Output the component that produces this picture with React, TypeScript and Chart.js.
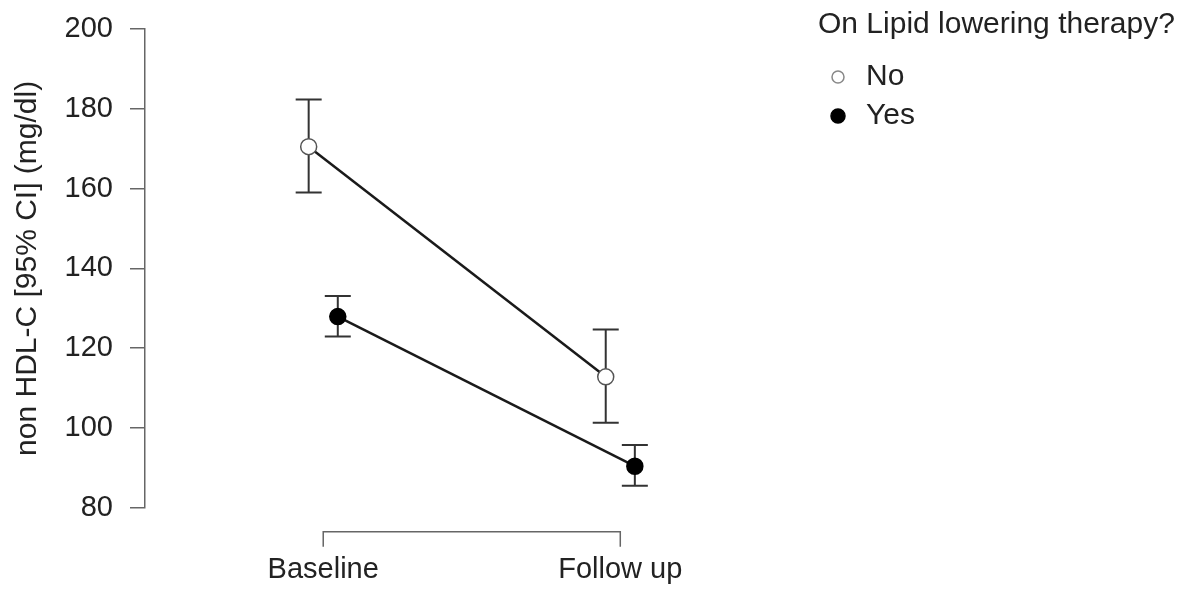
import { useEffect, useRef } from 'react';
import { Chart, registerables } from 'chart.js';

Chart.register(...registerables);

// ---- data ----
const categories = ['Baseline', 'Follow up'];
const seriesNames = ['No', 'Yes'];
const noMean = [170.5, 112.8];
const noLow = [159.0, 101.3];
const noHigh = [182.3, 124.7];
const yesMean = [127.9, 90.4];
const yesLow = [122.9, 85.5];
const yesHigh = [133.1, 95.7];
const yTicks = [80, 100, 120, 140, 160, 180, 200];
const legendTitle = 'On Lipid lowering therapy?';
const yTitle = 'non HDL-C [95% CI] (mg/dl)';

// ---- style ----
const FONT = "'Liberation Sans', Arial, Helvetica, sans-serif";
const TEXT = '#222';
const AXIS = '#666';
const DODGE = 0.049;
const CAP = 13;

const errorBars = {
  id: 'errorBars',
  beforeDatasetsDraw(chart: any) {
    const { ctx, scales } = chart;
    const y = scales.y;
    ctx.save();
    ctx.strokeStyle = '#333';
    ctx.lineWidth = 2;
    chart.data.datasets.forEach((ds: any, di: number) => {
      const meta = chart.getDatasetMeta(di);
      meta.data.forEach((pt: any, i: number) => {
        const px = pt.x;
        const yl = y.getPixelForValue(ds.errLow[i]);
        const yh = y.getPixelForValue(ds.errHigh[i]);
        ctx.beginPath();
        ctx.moveTo(px, yl);
        ctx.lineTo(px, yh);
        ctx.moveTo(px - CAP, yl);
        ctx.lineTo(px + CAP, yl);
        ctx.moveTo(px - CAP, yh);
        ctx.lineTo(px + CAP, yh);
        ctx.stroke();
      });
    });
    ctx.restore();
  },
};

const bracket = {
  id: 'bracket',
  afterDraw(chart: any) {
    const { ctx, scales, chartArea } = chart;
    const x = scales.x;
    const x0 = x.getPixelForValue(0);
    const x1 = x.getPixelForValue(categories.length - 1);
    const yb = chartArea.bottom + 24;
    ctx.save();
    ctx.strokeStyle = AXIS;
    ctx.lineWidth = 1.5;
    ctx.beginPath();
    ctx.moveTo(x0, yb + 15);
    ctx.lineTo(x0, yb);
    ctx.lineTo(x1, yb);
    ctx.lineTo(x1, yb + 15);
    ctx.stroke();
    ctx.restore();
  },
};

const customLegend = {
  id: 'customLegend',
  afterDraw(chart: any) {
    const { ctx } = chart;
    ctx.save();
    ctx.fillStyle = TEXT;
    ctx.font = `30px ${FONT}`;
    ctx.textBaseline = 'middle';
    ctx.textAlign = 'left';
    ctx.fillText(legendTitle, 818, 25);
    const rows = [
      { y: 77, fill: '#fff', stroke: '#888', r: 6 },
      { y: 116, fill: '#000', stroke: '#000', r: 7 },
    ];
    seriesNames.forEach((name, i) => {
      const row = rows[i];
      ctx.beginPath();
      ctx.arc(838, row.y, row.r, 0, Math.PI * 2);
      ctx.fillStyle = row.fill;
      ctx.fill();
      ctx.lineWidth = 1.5;
      ctx.strokeStyle = row.stroke;
      ctx.stroke();
      ctx.fillStyle = TEXT;
      ctx.fillText(name, 866, row.y);
    });
    ctx.restore();
  },
};

export default function App() {
  const ref = useRef<HTMLCanvasElement>(null);

  useEffect(() => {
    if (!ref.current) return;
    const chart = new Chart(ref.current, {
      type: 'line',
      data: {
        datasets: [
          {
            label: seriesNames[0],
            data: noMean.map((v, i) => ({ x: i - DODGE, y: v })),
            errLow: noLow,
            errHigh: noHigh,
            borderColor: '#1a1a1a',
            borderWidth: 2.5,
            pointRadius: 8,
            pointBackgroundColor: '#fff',
            pointBorderColor: '#555',
            pointBorderWidth: 1.5,
          } as any,
          {
            label: seriesNames[1],
            data: yesMean.map((v, i) => ({ x: i + DODGE, y: v })),
            errLow: yesLow,
            errHigh: yesHigh,
            borderColor: '#1a1a1a',
            borderWidth: 2.5,
            pointRadius: 8,
            pointBackgroundColor: '#000',
            pointBorderColor: '#000',
            pointBorderWidth: 1.5,
          } as any,
        ],
      },
      options: {
        animation: false,
        responsive: false,
        devicePixelRatio: 1,
        layout: { padding: { top: 29, left: 0, right: 394, bottom: 0 } },
        plugins: {
          legend: { display: false },
          tooltip: { enabled: false },
        },
        scales: {
          x: {
            type: 'linear',
            min: -0.6,
            max: 1.605,
            afterBuildTicks: (s: any) => {
              s.ticks = categories.map((_, i) => ({ value: i }));
            },
            afterFit: (s: any) => {
              s.height = 82.3;
            },
            border: { display: false },
            grid: { display: false, drawTicks: false },
            ticks: {
              autoSkip: false,
              maxRotation: 0,
              padding: 45,
              color: TEXT,
              font: { size: 29, family: FONT },
              callback: (v: any) => categories[v] ?? '',
            },
          },
          y: {
            min: 80,
            max: 200,
            afterBuildTicks: (s: any) => {
              s.ticks = yTicks.map((v) => ({ value: v }));
            },
            afterFit: (s: any) => {
              s.width = 145;
              s.paddingTop = 0;
              s.paddingBottom = 0;
            },
            border: { display: true, color: AXIS, width: 1.5 },
            grid: { drawOnChartArea: false, drawTicks: true, tickLength: 15, color: AXIS, lineWidth: 1.5 },
            ticks: {
              padding: 17,
              color: TEXT,
              font: { size: 29, family: FONT },
            },
            title: {
              display: true,
              text: yTitle,
              color: TEXT,
              font: { size: 30, family: FONT },
              padding: { top: 10, bottom: 0 },
            },
          },
        },
      },
      plugins: [errorBars, bracket, customLegend],
    } as any);
    return () => chart.destroy();
  }, []);

  return (
    <canvas
      ref={ref}
      width={1194}
      height={590}
      style={{ position: 'fixed', left: 0, top: 0, width: 1194, height: 590, display: 'block' }}
    />
  );
}
